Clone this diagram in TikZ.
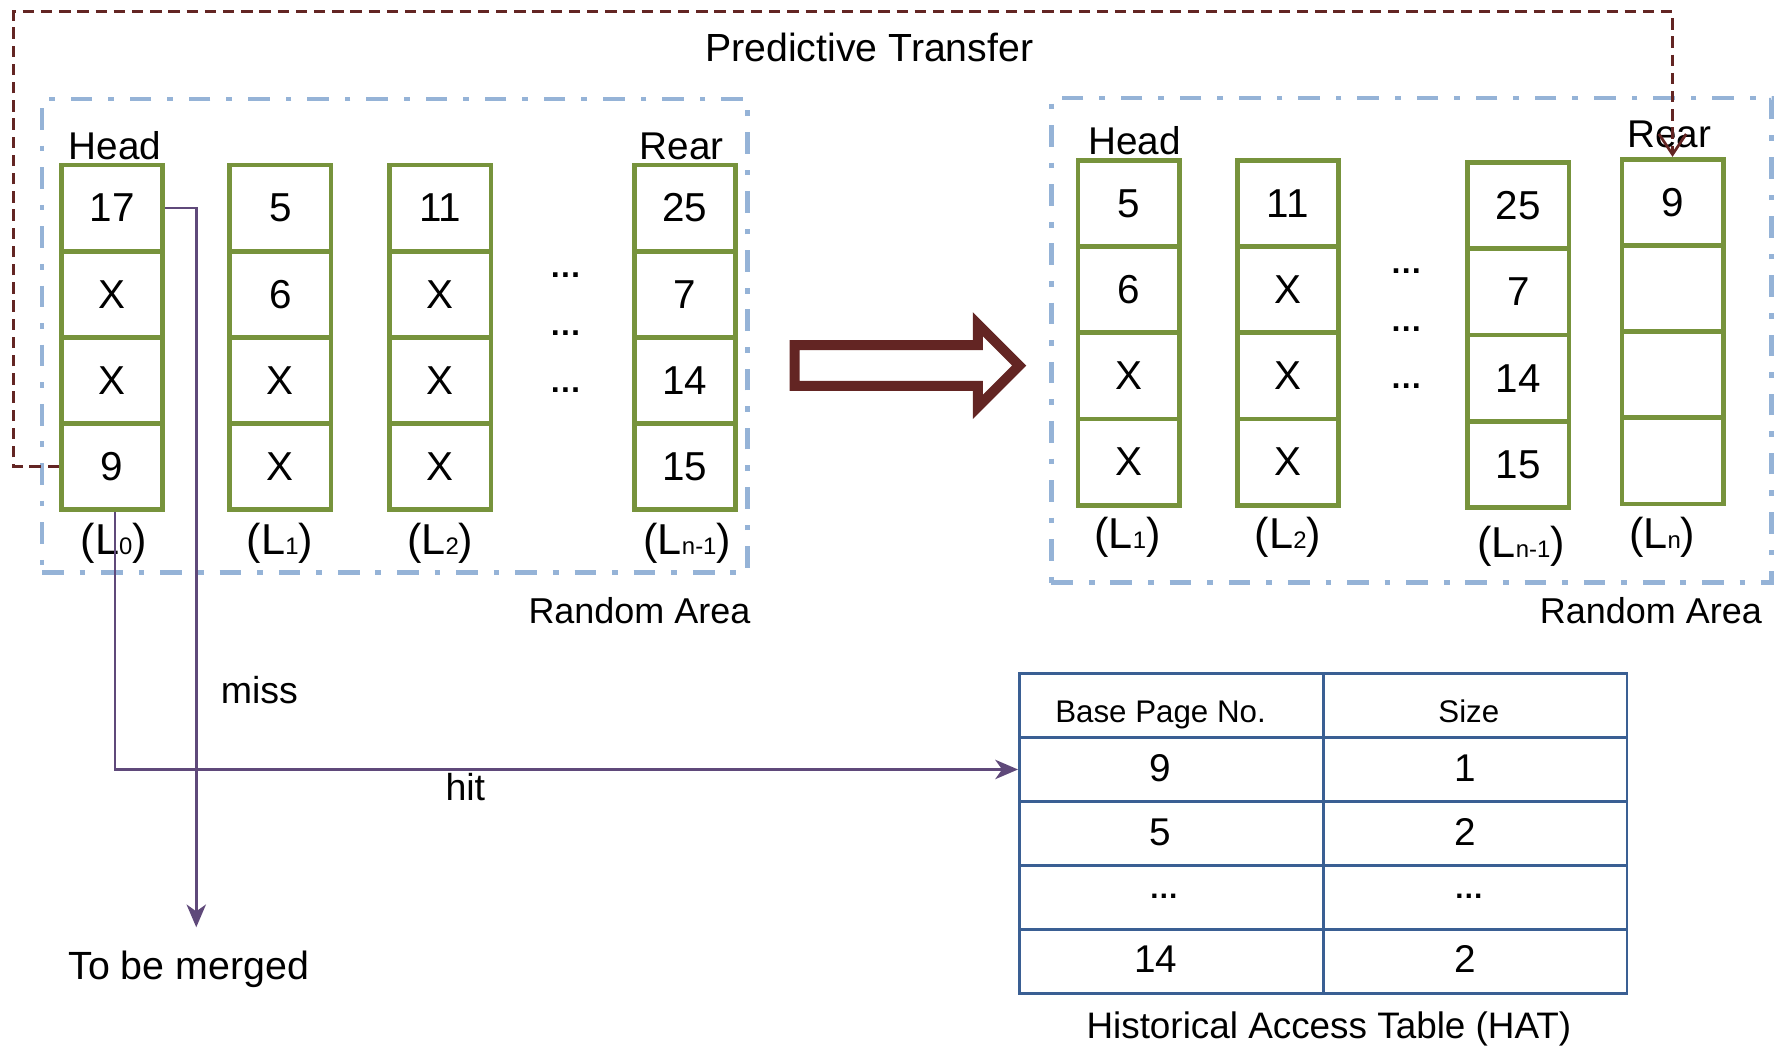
\documentclass[tikz,border=0pt]{standalone}
\usepackage{fontspec}
\setmainfont{Liberation Sans}
\usetikzlibrary{arrows.meta}
\definecolor{cgreen}{HTML}{77933C}
\definecolor{cblue}{HTML}{95B3D7}
\definecolor{cbrown}{HTML}{632523}
\definecolor{cpurple}{HTML}{5F497A}
\definecolor{ctable}{HTML}{3A5F93}
% list label: (L_i) with a small index on the baseline
\newcommand\listlabel[1]{(L{\fontsize{21}{22}\selectfont #1})}
\begin{document}
\begin{tikzpicture}[x=1pt,y=-1pt,
  lbl/.style={inner sep=0pt, anchor=base, font=\fontsize{34}{40}\selectfont},
  listlbl/.style={lbl, font=\fontsize{38}{44}\selectfont},
  small/.style={lbl, font=\fontsize{27.5}{32}\selectfont},
  area/.style={draw=cblue, line width=4pt, dash pattern=on 19pt off 14pt on 5pt off 14pt, inner sep=0pt},
  cellbox/.style={draw=cgreen, line width=4.2pt, fill=white, minimum width=89pt, minimum height=75.75pt, inner sep=0pt, font=\fontsize{35.5}{40}\selectfont},
  dots/.style={inner sep=0pt, font=\fontsize{28}{30}\selectfont\bfseries},
  flow/.style={draw=cpurple, line width=2.4pt, -{Stealth[length=20pt,width=17pt,inset=6pt]}},
  transfer/.style={draw=cbrown, line width=2.4pt, dash pattern=on 10pt off 6pt, -{Straight Barb[length=18pt,width=24pt]}},
  bigarrow/.style={draw=cbrown, line width=8.8pt, miter limit=10, line join=miter},
  hatrow/.style={draw=ctable, line width=2.5pt, minimum width=534pt, minimum height=56.2pt, inner sep=0pt}
]
\useasboundingbox (0,0) rectangle (1568,920);

% random areas
\node[area, minimum width=620pt, minimum height=416pt] (areaL) at (347,295) {};
\node[area, minimum width=633pt, minimum height=426pt] (areaR) at (1240.5,299) {};

% title
\node[lbl, font=\fontsize{34.5}{40}\selectfont] (title) at (764,54) {Predictive Transfer};

% left lists
\foreach \t [count=\i] in {17,X,X,9}
  \node[cellbox] (a0-\i) at (98.5,{145+75.75*(\i-0.5)}) {\t};
\foreach \t [count=\i] in {5,6,X,X}
  \node[cellbox] (a1-\i) at (246.5,{145+75.75*(\i-0.5)}) {\t};
\foreach \t [count=\i] in {11,X,X,X}
  \node[cellbox] (a2-\i) at (387,{145+75.75*(\i-0.5)}) {\t};
\foreach \t [count=\i] in {25,7,14,15}
  \node[cellbox] (a3-\i) at (602,{145+75.75*(\i-0.5)}) {\t};

\node[lbl] (headL) at (101,140) {Head};
\node[lbl] (rearL) at (599,140) {Rear};
\node[dots] (dotsL1) at (497,242) {…};
\node[dots] (dotsL2) at (497,293) {…};
\node[dots] (dotsL3) at (497,343) {…};
\node[listlbl] (labL0) at (100,487) {\listlabel{0}};
\node[listlbl] (labL1) at (246,487) {\listlabel{1}};
\node[listlbl] (labL2) at (387,487) {\listlabel{2}};
\node[listlbl] (labL3) at (604,487) {\listlabel{n-1}};
\node[lbl, font=\fontsize{31.6}{36}\selectfont] (randL) at (562,548) {Random Area};

% right lists
\foreach \t [count=\i] in {5,6,X,X}
  \node[cellbox] (b1-\i) at (992,{141+75.75*(\i-0.5)}) {\t};
\foreach \t [count=\i] in {11,X,X,X}
  \node[cellbox] (b2-\i) at (1132,{141+75.75*(\i-0.5)}) {\t};
\foreach \t [count=\i] in {25,7,14,15}
  \node[cellbox] (b3-\i) at (1334.5,{143+75.75*(\i-0.5)}) {\t};
\foreach \t [count=\i] in {9,{},{},{}}
  \node[cellbox] (b4-\i) at (1470,{140+75.75*(\i-0.5)}) {\t};

\node[lbl] (headR) at (997,135.5) {Head};
\node[lbl] (rearR) at (1467,130) {Rear};
\node[dots] (dotsR1) at (1236,238) {…};
\node[dots] (dotsR2) at (1236,289) {…};
\node[dots] (dotsR3) at (1236,339) {…};
\node[listlbl] (labR1) at (991,482) {\listlabel{1}};
\node[listlbl] (labR2) at (1132,482) {\listlabel{2}};
\node[listlbl] (labR3) at (1337,490) {\listlabel{n-1}};
\node[listlbl] (labR4) at (1461,482) {\listlabel{n}};
\node[lbl, font=\fontsize{31.6}{36}\selectfont] (randR) at (1451,548) {Random Area};

% hollow transition arrow
\draw[bigarrow] (698.4,303.4) -- (859.4,303.4) -- (859.4,284.9) -- (895.8,321.3)
  -- (859.4,357.7) -- (859.4,339.2) -- (698.4,339.2) -- cycle;

% historical access table
\foreach \r in {0,...,4}
  \node[hatrow] (hrow\r) at (1163,{592+56.2*(\r+0.5)}) {};
\draw[ctable, line width=2.5pt] (hrow0.north) -- (hrow4.south);
\node[small] (hh1) at (1020,635) {Base Page No.};
\node[small] (hh2) at (1291,635) {Size};
\node[lbl] (h11) at (1020,687) {9};
\node[lbl] (h12) at (1288,687) {1};
\node[lbl] (h21) at (1020,743) {5};
\node[lbl] (h22) at (1288,743) {2};
\node[dots, font=\fontsize{26}{30}\selectfont\bfseries] (h31) at (1023,788) {…};
\node[dots, font=\fontsize{26}{30}\selectfont\bfseries] (h32) at (1291,788) {…};
\node[lbl] (h41) at (1016,855) {14};
\node[lbl] (h42) at (1288,855) {2};
\node[lbl, font=\fontsize{32.4}{36}\selectfont] (hatcap) at (1168,913) {Historical Access Table (HAT)};

% lookup outcomes
\coordinate (missend) at (172.5,815);
\coordinate (tcorner) at (12,10);
\node[lbl, font=\fontsize{33}{40}\selectfont] (misslab) at (228,618) {miss};
\node[lbl, font=\fontsize{33}{40}\selectfont] (hitlab) at (409,704) {hit};
\node[lbl, font=\fontsize{34.6}{40}\selectfont] (merge) at (166,861) {To be merged};

\draw[flow] (a0-1.east) -| (missend);
\draw[flow] ([xshift=2.5pt]a0-4.south) |- (hrow1.west);

% predictive transfer of page 9 to the rear list
\draw[transfer] (a0-4.west) -| (tcorner) -| (b4-1.north);
\end{tikzpicture}
\end{document}
